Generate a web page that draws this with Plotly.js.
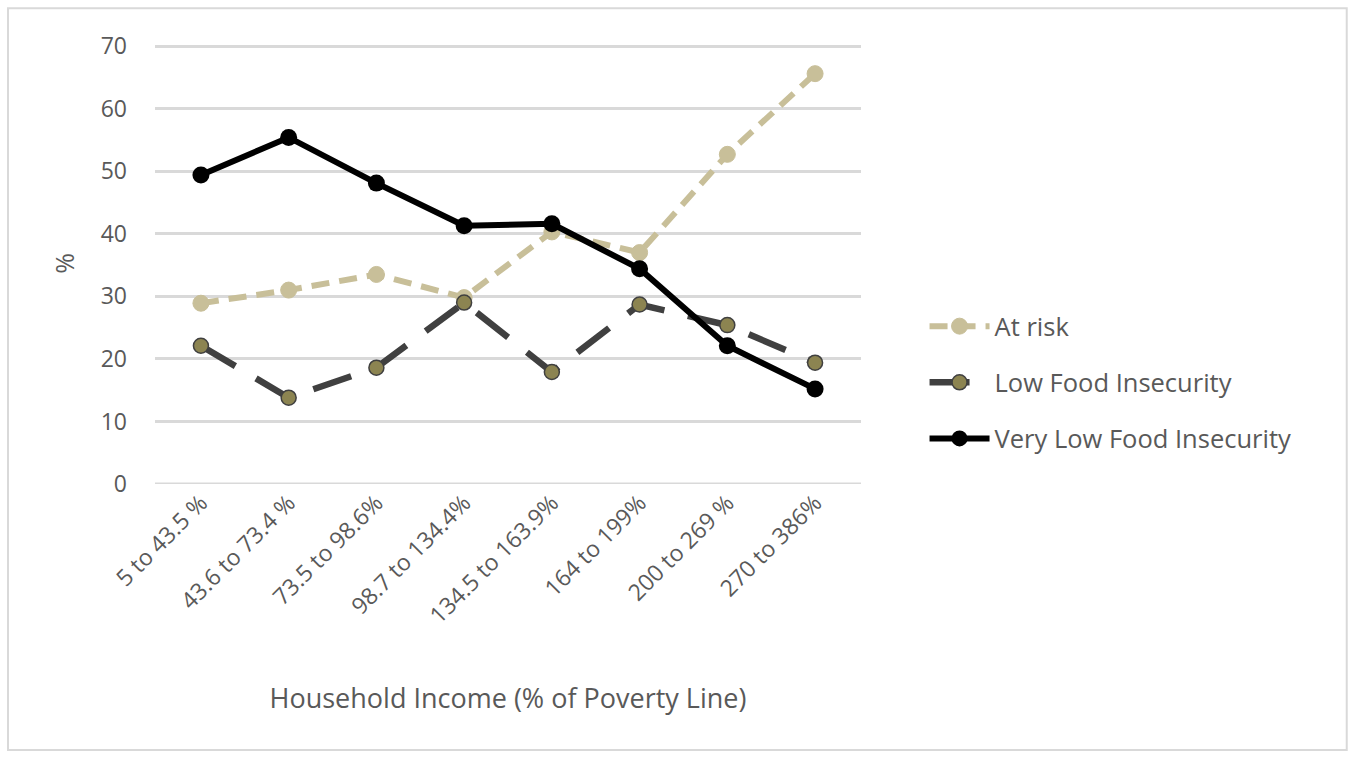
<!DOCTYPE html>
<html>
<head>
<meta charset="utf-8">
<script src="https://cdn.plot.ly/plotly-3.0.1.min.js"></script>
<style>
html,body{margin:0;padding:0;background:#fff;}
#chart{width:1355px;height:758px;}
</style>
</head>
<body>
<div id="chart"></div>
<script>
const categories = ["5 to 43.5 %", "43.6 to 73.4 %", "73.5 to 98.6%", "98.7 to 134.4%", "134.5 to 163.9%", "164 to 199%", "200 to 269 %", "270 to 386%"];
const atRisk = [28.9, 31.0, 33.5, 29.8, 40.3, 37.0, 52.7, 65.6];
const lowFI = [22.1, 13.8, 18.6, 29.0, 17.9, 28.7, 25.4, 19.4];
const veryLowFI = [49.4, 55.4, 48.1, 41.3, 41.6, 34.4, 22.1, 15.2];
const yTicks = [0, 10, 20, 30, 40, 50, 60, 70];

const font = "Open Sans, Liberation Sans, sans-serif";
const traces = [
  {x: categories, y: atRisk, name: "At risk", legendgroup: "a", type: "scatter", mode: "lines+markers",
   line: {color: "#c8bf99", width: 6, dash: "18px,10px"},
   marker: {color: "#c8bf99", size: 16, line: {color: "#c8bf99", width: 1}}},
  {x: categories, y: lowFI, name: "Low Food Insecurity", legendgroup: "b", type: "scatter", mode: "lines+markers",
   line: {color: "#404040", width: 6.5, dash: "40px,24px"},
   marker: {color: "#8c8451", size: 15, line: {color: "#404040", width: 1.5}}},
  {x: categories, y: veryLowFI, name: "Very Low Food Insecurity", legendgroup: "c", type: "scatter", mode: "lines+markers",
   line: {color: "#000000", width: 6},
   marker: {color: "#000000", size: 17}}
];
const layout = {
  width: 1355, height: 758,
  margin: {l: 155, r: 494, t: 43, b: 274},
  paper_bgcolor: "#fff", plot_bgcolor: "#fff",
  font: {family: font, color: "#595959", size: 22},
  showlegend: true,
  legend: {x: 1.09, y: 0.23, xanchor: "left", yanchor: "middle", bgcolor: "rgba(0,0,0,0)",
           font: {size: 25.5, color: "#595959"}, tracegroupgap: 20, itemwidth: 60},
  xaxis: {type: "category", tickangle: -45, showgrid: false, zeroline: false,
          showline: false, ticks: "", tickfont: {size: 23, color: "#595959"},
          title: {text: "Household Income (% of Poverty Line)", font: {size: 27, color: "#595959"}, standoff: 60}},
  yaxis: {range: [0, 70.5], tickvals: yTicks, ticktext: yTicks.map(String),
          showgrid: true, gridcolor: "#d9d9d9", gridwidth: 3, zeroline: false, showline: false,
          ticks: "", ticklen: 0, ticklabelstandoff: 27, tickfont: {size: 23, color: "#595959"}, automargin: false,
          title: {text: "%", font: {size: 25, color: "#595959"}, standoff: 18}},
  shapes: [
    {type: "line", xref: "paper", yref: "y", x0: 0, x1: 1, y0: 0, y1: 0, line: {color: "#d9d9d9", width: 3}, layer: "below"},
    {type: "rect", xref: "paper", yref: "paper", x0: -0.2082, x1: 1.688, y0: -0.603, y1: 1.079,
     line: {color: "#d9d9d9", width: 2}, fillcolor: "rgba(0,0,0,0)"}
  ]
};
Plotly.newPlot("chart", traces, layout, {displayModeBar: false, staticPlot: true});
</script>
</body>
</html>
